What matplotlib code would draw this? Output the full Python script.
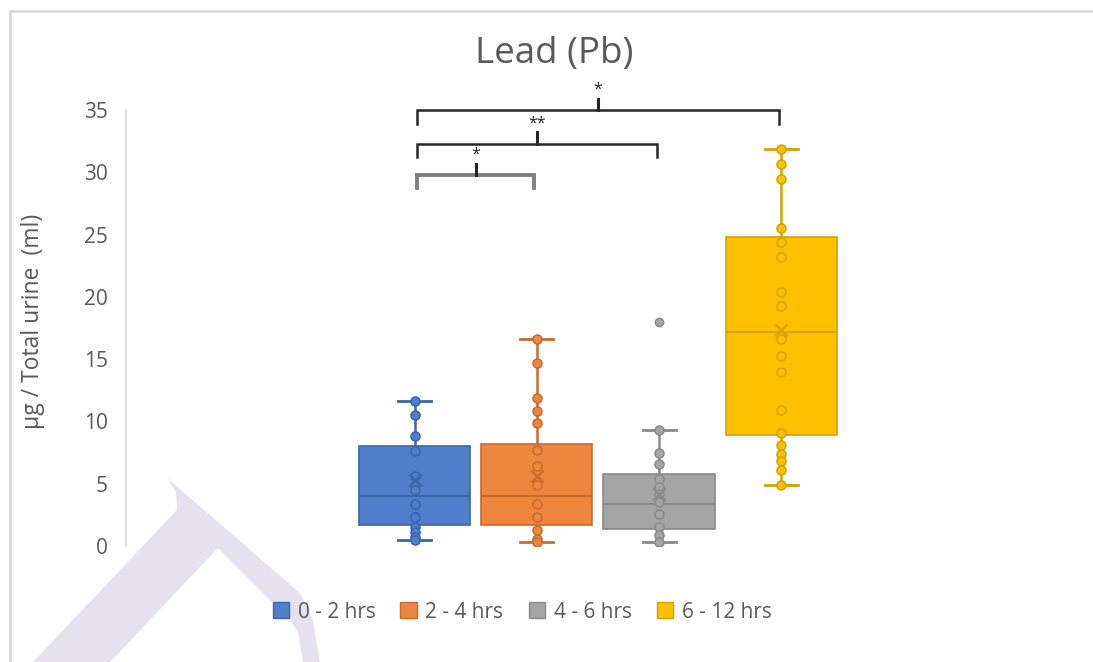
import matplotlib
matplotlib.use("Agg")
import matplotlib.pyplot as plt
from matplotlib.patches import Polygon
from matplotlib.lines import Line2D
import numpy as np

plt.rcParams['font.family'] = ['Open Sans', 'DejaVu Sans']

# ---------------- data ----------------
groups = ["0 - 2 hrs", "2 - 4 hrs", "4 - 6 hrs", "6 - 12 hrs"]
points_0_2 = [11.6, 10.5, 8.8, 7.6, 5.6, 4.5, 3.4, 2.35, 1.55, 1.15, 0.75, 0.5]
points_2_4 = [16.6, 14.7, 11.85, 10.8, 9.85, 7.7, 6.4, 4.9, 3.4, 2.35, 1.3, 0.6, 0.3]
points_4_6 = [9.3, 7.45, 6.6, 5.4, 4.75, 4.2, 3.55, 2.6, 1.55, 0.9, 0.35]
points_6_12 = [31.9, 30.7, 29.5, 25.5, 24.4, 23.2, 20.4, 19.3, 16.6, 15.25,
               14.0, 10.9, 9.1, 8.1, 7.4, 6.8, 6.1, 4.9]
outliers = [[], [], [18.0], []]

q1 = [1.7, 1.7, 1.4, 8.9]
median = [4.0, 4.0, 3.4, 17.15]
q3 = [8.0, 8.2, 5.8, 24.8]
whisker_low = [0.5, 0.3, 0.3, 4.9]
whisker_high = [11.6, 16.6, 9.3, 31.9]
means = [5.3, 5.6, 4.2, 17.3]

# significance brackets: (group a, group b), height, label
sig_pairs = [(0, 1), (0, 2), (0, 3)]
sig_heights = [29.8, 32.3, 35.0]
sig_labels = ["*", "**", "*"]

y_ticks = [0, 5, 10, 15, 20, 25, 30, 35]

# ---------------- styling ----------------
fills = ['#4F7FCB', '#EE8640', '#A5A5A5', '#FFC000']
edges = ['#3B64AA', '#C96B2C', '#8A8A8A', '#D6A200']
text_gray = '#595959'

W, H = 1093, 662
fig = plt.figure(figsize=(W / 100, H / 100), dpi=100)
fig.patch.set_facecolor('white')

# faint watermark shape
wm = [(167, 478), (300, 593), (313, 620), (320, 662), (303, 662), (298, 632),
      (290, 620), (218, 548), (110, 662), (33, 662), (177, 510), (176, 492)]
poly = Polygon([(x / W, 1 - y / H) for x, y in wm], closed=True,
               transform=fig.transFigure, facecolor='#E6E0EF', edgecolor='none', zorder=0)
fig.patches.append(poly)

# chart border
fig.add_artist(Line2D([10 / W, 10 / W], [0, 1 - 11 / H], color='#D9D9D9', lw=2, zorder=1))
fig.add_artist(Line2D([10 / W, 1], [1 - 11 / H, 1 - 11 / H], color='#D9D9D9', lw=2, zorder=1))

left_px, right_px, top_px, bot_px = 126, 1070, 110, 546
ax = fig.add_axes([left_px / W, 1 - bot_px / H, (right_px - left_px) / W, (bot_px - top_px) / H])
ax.set_facecolor('none')

spacing = 122.3
positions = np.arange(len(groups))
ax.set_xlim((left_px - 414.5) / spacing, (right_px - 414.5) / spacing)
ax.set_ylim(0, 35)

all_points = [points_0_2, points_2_4, points_4_6, points_6_12]
stats = []
for i in range(len(groups)):
    stats.append(dict(med=median[i], q1=q1[i], q3=q3[i], whislo=whisker_low[i],
                      whishi=whisker_high[i], mean=means[i], fliers=outliers[i],
                      label=groups[i]))

bp = ax.bxp(stats, positions=positions, widths=0.91, patch_artist=True,
            showmeans=True, capwidths=0.27, manage_ticks=False)
for i in range(len(groups)):
    bp['boxes'][i].set(facecolor=fills[i], edgecolor=edges[i], linewidth=1.2, zorder=2)
    bp['medians'][i].set(color=edges[i], linewidth=1.5, zorder=3)
    for w in bp['whiskers'][2 * i:2 * i + 2]:
        w.set(color=edges[i], linewidth=1.8, zorder=1.5)
    for c in bp['caps'][2 * i:2 * i + 2]:
        c.set(color=edges[i], linewidth=2.0, zorder=1.5)
    bp['means'][i].set(marker='x', markeredgecolor=edges[i], markerfacecolor=edges[i],
                       markersize=8, markeredgewidth=1.8, zorder=4)
    bp['fliers'][i].set(marker='o', markerfacecolor=fills[i], markeredgecolor=edges[i],
                        markersize=6, zorder=4)
    ax.plot(np.full(len(all_points[i]), positions[i]), all_points[i], 'o',
            markerfacecolor=fills[i], markeredgecolor=edges[i], markeredgewidth=1.1,
            markersize=6.5, zorder=3.5, linestyle='none')

# significance brackets
for (a, b), h, lab in zip(sig_pairs, sig_heights, sig_labels):
    col = '#7F7F7F' if (a, b) == (0, 1) else '#262626'
    lw = 2.8 if (a, b) == (0, 1) else 1.8
    xa, xb = positions[a] + 0.02, positions[b] - 0.02
    ax.plot([xa, xa, xb, xb], [h - 1.1, h, h, h - 1.1], color=col, lw=lw,
            clip_on=False, solid_joinstyle='miter', zorder=5)
    xm = (xa + xb) / 2
    ax.plot([xm, xm], [h, h + 0.9], color='#262626', lw=2.2, clip_on=False, zorder=5)
    ax.text(xm, h + 1.0, lab, ha='center', va='bottom', fontsize=11.5,
            color='#262626', clip_on=False)

# axes styling
for s in ['top', 'right', 'bottom']:
    ax.spines[s].set_visible(False)
ax.spines['left'].set_color('#D9D9D9')
ax.spines['left'].set_linewidth(1.2)
ax.set_yticks(y_ticks)
ax.set_xticks([])
ax.tick_params(axis='y', length=0, pad=13, labelsize=15, labelcolor=text_gray)
ax.set_ylabel("µg / Total urine  (ml)", fontsize=16.5, color=text_gray)
ax.yaxis.set_label_coords((45 - left_px) / (right_px - left_px), (bot_px - 321) / (bot_px - top_px))

fig.text(554 / W, 1 - 54 / H, "Lead (Pb)", ha='center', va='center', fontsize=26.5, color=text_gray)

handles = [plt.Rectangle((0, 0), 1, 1, facecolor=fills[i], edgecolor=edges[i], lw=1)
           for i in range(len(groups))]
fig.legend(handles, groups, loc='center', bbox_to_anchor=(522 / W, 1 - 612 / H), ncol=4,
           frameon=False, fontsize=15, handlelength=0.8, handleheight=0.8,
           handletextpad=0.4, columnspacing=1.2, labelcolor=text_gray)

fig.savefig("out.png", dpi=100)
